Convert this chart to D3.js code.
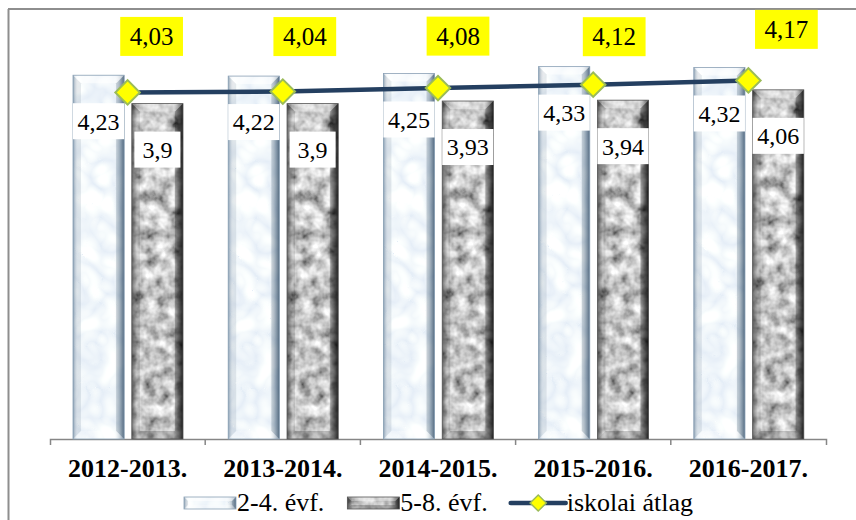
<!DOCTYPE html>
<html><head><meta charset="utf-8">
<script src="https://cdn.jsdelivr.net/npm/d3@7"></script>
<style>
html,body{margin:0;padding:0;background:#fff;}
svg{display:block;}
text{font-family:"Liberation Serif","Times New Roman",serif;}
</style>
</head><body>
<svg id="chart" width="856" height="520"></svg>
<script>
// ---- data ----
const categories = ["2012-2013.", "2013-2014.", "2014-2015.", "2015-2016.", "2016-2017."];
const seriesNames = ["2-4. évf.", "5-8. évf.", "iskolai átlag"];
const grades24 = [4.23, 4.22, 4.25, 4.33, 4.32];
const grades58 = [3.9, 3.9, 3.93, 3.94, 4.06];
const schoolAvg = [4.03, 4.04, 4.08, 4.12, 4.17];

// ---- layout (not data) ----
const W = 856, H = 520;
const SERIF = "'Liberation Serif','Times New Roman',serif";
const plot = {left: 50, right: 826, top: 9, bottom: 439};
const avgLabelNudge = [[24, -56], [22, -55], [20, -52], [21, -48], [38, -51]];
const fmt = v => String(v).replace(".", ",");

const svg = d3.select("#chart");
const defs = svg.append("defs");

// textures
const fl = defs.append("filter").attr("id", "texLight").attr("x", 0).attr("y", 0).attr("width", 1).attr("height", 1);
fl.append("feTurbulence").attr("type", "turbulence").attr("baseFrequency", 0.035).attr("numOctaves", 2).attr("seed", 4).attr("result", "n");
fl.append("feColorMatrix").attr("in", "n").attr("type", "matrix")
  .attr("values", "0.45 0 0 0 0.78  0.35 0 0 0 0.85  0.15 0 0 0 0.93  0 0 0 0 1").attr("result", "c");
fl.append("feComposite").attr("in", "c").attr("in2", "SourceAlpha").attr("operator", "in");

const fd = defs.append("filter").attr("id", "texDark").attr("x", 0).attr("y", 0).attr("width", 1).attr("height", 1);
fd.append("feTurbulence").attr("type", "fractalNoise").attr("baseFrequency", 0.08).attr("numOctaves", 3).attr("seed", 9).attr("result", "n");
fd.append("feColorMatrix").attr("in", "n").attr("type", "matrix")
  .attr("values", "1.4 0 0 0 -0.12  1.4 0 0 0 -0.12  1.4 0 0 0 -0.12  0 0 0 0 1").attr("result", "c");
fd.append("feComposite").attr("in", "c").attr("in2", "SourceAlpha").attr("operator", "in");

function hGrad(id, stops) {
  const g = defs.append("linearGradient").attr("id", id).attr("x1", 0).attr("x2", 1).attr("y1", 0).attr("y2", 0);
  stops.forEach(s => g.append("stop").attr("offset", s[0]).attr("stop-color", s[1]).attr("stop-opacity", s[2]));
}
hGrad("shadeLight", [[0, "#4a6a88", 0.55], [0.1, "#ffffff", 0.0], [0.8, "#ffffff", 0.0], [0.92, "#3d5a78", 0.35], [1, "#2c4560", 0.75]]);
hGrad("shadeDark", [[0, "#000", 0.45], [0.1, "#000", 0.0], [0.82, "#000", 0.0], [1, "#000", 0.8]]);

// border
svg.append("line").attr("x1", 8).attr("x2", W).attr("y1", 9).attr("y2", 9).attr("stroke", "#8e8e8e").attr("stroke-width", 2);
svg.append("line").attr("x1", 8.5).attr("x2", 8.5).attr("y1", 9).attr("y2", H).attr("stroke", "#8e8e8e").attr("stroke-width", 2);

// scales
const x0 = d3.scaleBand().domain(categories).range([plot.left, plot.right]);
const x1 = d3.scaleBand().domain([0, 1]).range([23, 133]).paddingInner(0.13);
const y = d3.scaleLinear().domain([0, 5]).range([plot.bottom, plot.top]);
const bw = x1.bandwidth();

function drawBeveled(g, w, h, kind, b) {
  g.append("rect").attr("width", w).attr("height", h).attr("fill", "#000")
    .attr("filter", kind === 0 ? "url(#texLight)" : "url(#texDark)");
  g.append("rect").attr("width", w).attr("height", h).attr("fill", kind === 0 ? "url(#shadeLight)" : "url(#shadeDark)");
  const dark = kind === 0 ? "#36506b" : "#000";
  g.append("polygon").attr("points", [[0, 0], [w, 0], [w - b, b], [b, b]].join(" "))
    .attr("fill", "#fff").attr("fill-opacity", kind === 0 ? 0.55 : 0.3);
  g.append("polygon").attr("points", [[0, 0], [b, b], [b, h - b], [0, h]].join(" "))
    .attr("fill", dark).attr("fill-opacity", 0.12);
  g.append("polygon").attr("points", [[w, 0], [w - b, b], [w - b, h - b], [w, h]].join(" "))
    .attr("fill", dark).attr("fill-opacity", 0.22);
  g.append("polygon").attr("points", [[0, h], [w, h], [w - b, h - b], [b, h - b]].join(" "))
    .attr("fill", kind === 0 ? "#fff" : "#000").attr("fill-opacity", kind === 0 ? 0.25 : 0.2);
  g.append("rect").attr("width", w).attr("height", h).attr("fill", "none")
    .attr("stroke", kind === 0 ? "#8aa0b5" : "#555").attr("stroke-width", 0.8);
}

// axis
const axis = d3.axisBottom(x0).tickSizeInner(0).tickSizeOuter(6).tickPadding(19.5);
const ax = svg.append("g").attr("transform", `translate(0,${plot.bottom})`).call(axis)
  .attr("font-family", SERIF);
ax.select(".domain").attr("stroke", "#868686").attr("stroke-width", 1.5);
ax.selectAll(".tick text").attr("font-size", 26).attr("font-weight", "bold").attr("fill", "#000")
  .style("font-family", SERIF);
ax.selectAll(".tick line").remove();
ax.selectAll("line.bound").data(categories.slice(1)).enter().append("line").attr("class", "bound")
  .attr("x1", d => x0(d)).attr("x2", d => x0(d)).attr("y1", 0).attr("y2", 6)
  .attr("stroke", "#868686").attr("stroke-width", 1.5);

// bars
const barData = categories.flatMap((c, i) => [
  {c, s: 0, v: grades24[i]},
  {c, s: 1, v: grades58[i]}
]);
const bars = svg.append("g").selectAll("g.bar").data(barData).enter().append("g").attr("class", "bar")
  .attr("transform", d => `translate(${x0(d.c) + x1(d.s)},${y(d.v)})`);
bars.each(function (d) { drawBeveled(d3.select(this), bw, y(0) - y(d.v), d.s, 8); });

// bar labels
const bl = svg.append("g").selectAll("g.bl").data(barData).enter().append("g").attr("class", "bl")
  .attr("transform", d => `translate(${x0(d.c) + x1(d.s) + bw / 2},${y(d.v) + 46})`);
bl.append("text").attr("text-anchor", "middle").attr("dy", "0.35em").attr("font-size", 24).attr("fill", "#000")
  .style("font-family", SERIF).text(d => fmt(d.v));
bl.each(function () {
  const g = d3.select(this);
  const tw = g.select("text").node().getComputedTextLength();
  const w = Math.min(bw, tw + 16);
  g.insert("rect", "text").attr("x", -w / 2).attr("y", -18).attr("width", w).attr("height", 36).attr("fill", "#fff");
});

// line
const px = i => x0(categories[i]) + x0.bandwidth() / 2;
const line = d3.line().x((d, i) => px(i)).y(d => y(d));
svg.append("path").datum(schoolAvg).attr("d", line).attr("fill", "none")
  .attr("stroke", "#243f60").attr("stroke-width", 4.5);
const diamond = d3.symbol().type(d3.symbolSquare).size(300);
svg.append("g").selectAll("path").data(schoolAvg).enter().append("path")
  .attr("d", diamond).attr("transform", (d, i) => `translate(${px(i)},${y(d)}) rotate(45)`)
  .attr("fill", "#ffff00").attr("stroke", "#9bbb59").attr("stroke-width", 2);

// average labels
const al = svg.append("g").selectAll("g").data(schoolAvg).enter().append("g")
  .attr("transform", (d, i) => `translate(${px(i) + avgLabelNudge[i][0]},${y(d) + avgLabelNudge[i][1]})`);
al.append("text").attr("text-anchor", "middle").attr("dy", "0.35em").attr("font-size", 25).attr("fill", "#000")
  .style("font-family", SERIF).text(d => fmt(d));
al.each(function () {
  const g = d3.select(this);
  const tw = g.select("text").node().getComputedTextLength();
  const w = tw + 19;
  g.insert("rect", "text").attr("x", -w / 2).attr("y", -19.5).attr("width", w).attr("height", 39).attr("fill", "#ffff00");
});

// legend
const leg = svg.append("g");
let lx = 184;
const ly = 503;
seriesNames.forEach((name, i) => {
  const sw = i < 2 ? 52 : 55;
  if (i < 2) {
    const g = leg.append("g").attr("transform", `translate(${lx},${ly - 6})`);
    drawBeveled(g, sw, 12, i, 4);
  } else {
    leg.append("line").attr("x1", lx).attr("x2", lx + sw).attr("y1", ly).attr("y2", ly)
      .attr("stroke", "#243f60").attr("stroke-width", 4.5).attr("stroke-linecap", "round");
    leg.append("path").attr("d", d3.symbol().type(d3.symbolSquare).size(130))
      .attr("transform", `translate(${lx + sw / 2},${ly}) rotate(45)`)
      .attr("fill", "#ffff00").attr("stroke", "#9bbb59").attr("stroke-width", 1.5);
  }
  const t = leg.append("text").attr("x", lx + sw + 1).attr("y", ly + 8).attr("font-size", 26).attr("fill", "#000")
    .style("font-family", SERIF).text(name);
  lx = lx + sw + 1 + t.node().getComputedTextLength() + 23;
});
</script>
</body></html>
